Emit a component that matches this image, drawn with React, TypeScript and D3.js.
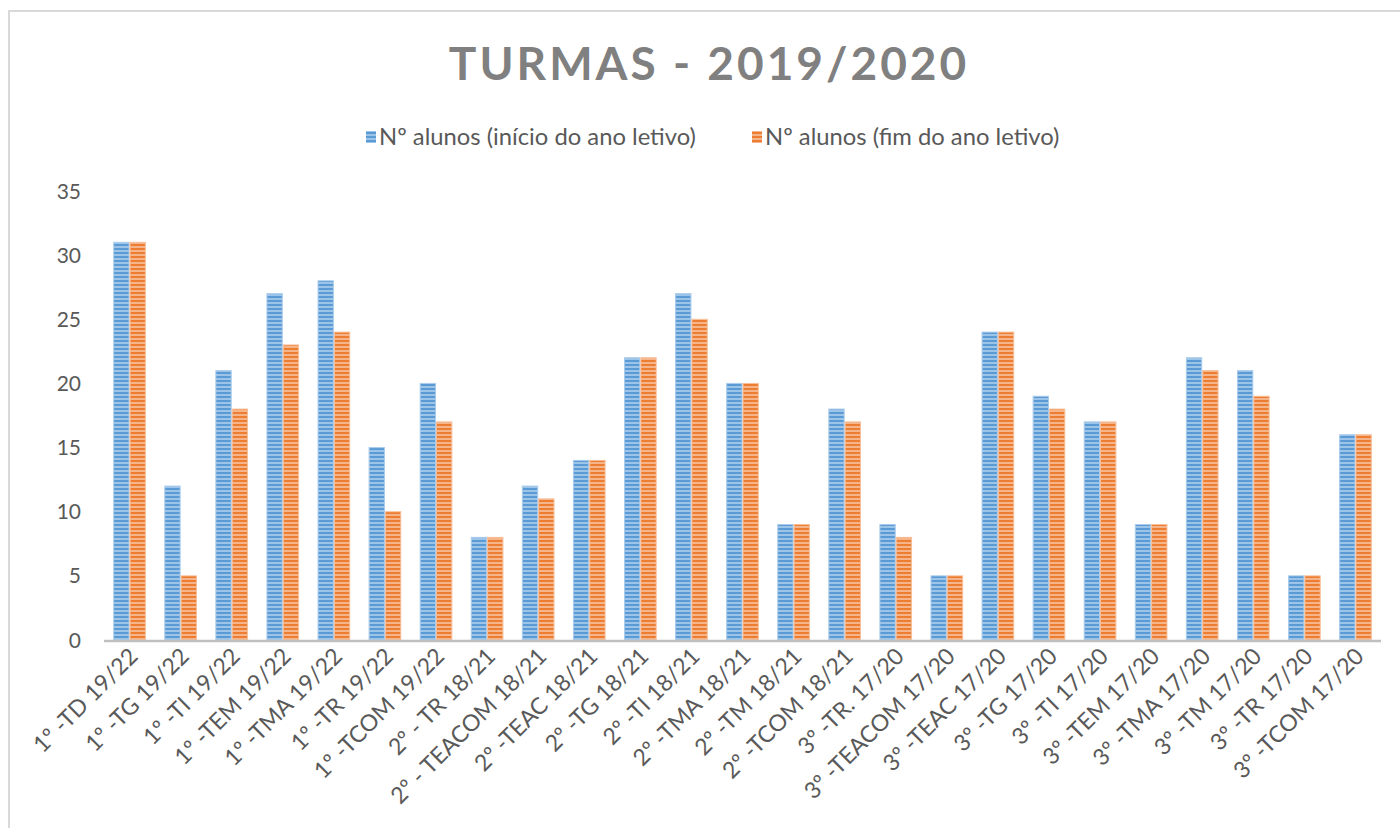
import React from "react";
import * as d3 from "d3";

const categories = [
  "1º -TD 19/22", "1º -TG 19/22", "1º -TI 19/22", "1º -TEM 19/22", "1º -TMA 19/22",
  "1º -TR 19/22", "1º -TCOM 19/22", "2º - TR 18/21", "2º - TEACOM 18/21", "2º -TEAC 18/21",
  "2º -TG 18/21", "2º -TI 18/21", "2º -TMA 18/21", "2º -TM 18/21", "2º -TCOM 18/21",
  "3º -TR. 17/20", "3º -TEACOM 17/20", "3º -TEAC 17/20", "3º -TG 17/20", "3º -TI 17/20",
  "3º -TEM 17/20", "3º -TMA 17/20", "3º -TM 17/20", "3º -TR 17/20", "3º -TCOM 17/20",
];
const inicio = [31, 12, 21, 27, 28, 15, 20, 8, 12, 14, 22, 27, 20, 9, 18, 9, 5, 24, 19, 17, 9, 22, 21, 5, 16];
const fim = [31, 5, 18, 23, 24, 10, 17, 8, 11, 14, 22, 25, 20, 9, 17, 8, 5, 24, 18, 17, 9, 21, 19, 5, 16];
const seriesNames = ["Nº alunos (início do ano letivo)", "Nº alunos (fim do ano letivo)"];
const yTicks = [0, 5, 10, 15, 20, 25, 30, 35];

const W = 1400, H = 828;
const FONT = "Lato, 'Open Sans', sans-serif";
const seriesStyle = [
  { id: "pBlue", base: "#5b9bd5", light: "#9cc3e8", stroke: "#a9cbeb" },
  { id: "pOrange", base: "#ed7d31", light: "#f5b48a", stroke: "#f6bf99" },
];

export default function App() {
  const plotLeft = 104, plotRight = 1381, plotBottom = 640, plotTop = 191;
  const y = d3.scaleLinear().domain([0, 35]).range([plotBottom, plotTop]);
  const x0 = d3.scaleBand<string>().domain(categories).range([plotLeft, plotRight]).padding(0);
  const step = x0.bandwidth();
  const x1 = d3.scaleBand<number>().domain([0, 1]).range([step * 0.19, step * 0.81]).paddingInner(0.06);
  const data = [inicio, fim];

  return (
    <svg width={W} height={H} style={{ position: "absolute", left: 0, top: 0, background: "#fff" }}>
      <defs>
        {seriesStyle.map((s) => (
          <pattern key={s.id} id={s.id} width={4} height={4} patternUnits="userSpaceOnUse">
            <rect width={4} height={4} fill={s.base} />
            <rect y={2} width={4} height={2} fill={s.light} />
          </pattern>
        ))}
      </defs>
      <rect x={0} y={0} width={W} height={H} fill="#fff" />
      <rect x={9} y={11} width={W + 10} height={H + 10} fill="none" stroke="#d9d9d9" strokeWidth={2} />

      <text x={709} y={80} textAnchor="middle" fontFamily={FONT} fontWeight={700} fontSize={46}
        letterSpacing={3} fill="#808080">TURMAS - 2019/2020</text>

      {/* legend */}
      {[{ x: 366 }, { x: 752 }].map((l, i) => (
        <g key={i}>
          <rect x={l.x} y={131} width={10} height={12} fill={`url(#${seriesStyle[i].id})`} />
          <text x={l.x + 13} y={145} fontFamily={FONT} fontSize={23.8} fill="#595959">{seriesNames[i]}</text>
        </g>
      ))}

      {/* y ticks */}
      {yTicks.map((t) => (
        <text key={t} x={81} y={y(t) + 7.5} textAnchor="end" fontFamily={FONT} fontSize={21} fill="#595959">{t}</text>
      ))}

      {/* bars */}
      {categories.map((c, ci) => (
        <g key={c} transform={`translate(${x0(c)},0)`}>
          {data.map((vals, si) => (
            <rect key={si} x={x1(si)} y={y(vals[ci])} width={x1.bandwidth()} height={plotBottom - y(vals[ci])}
              fill={`url(#${seriesStyle[si].id})`} stroke={seriesStyle[si].stroke} strokeWidth={1} />
          ))}
        </g>
      ))}

      {/* x axis */}
      <line x1={plotLeft} x2={plotRight} y1={plotBottom + 1} y2={plotBottom + 1} stroke="#bfbfbf" strokeWidth={2.5} />

      {categories.map((c) => {
        const cx = (x0(c) as number) + step / 2 + 4;
        const cy = plotBottom + 12;
        return (
          <text key={c} transform={`translate(${cx},${cy}) rotate(-45)`} textAnchor="end" dy="0.35em"
            fontFamily={FONT} fontSize={23} fill="#595959">{c}</text>
        );
      })}
    </svg>
  );
}
